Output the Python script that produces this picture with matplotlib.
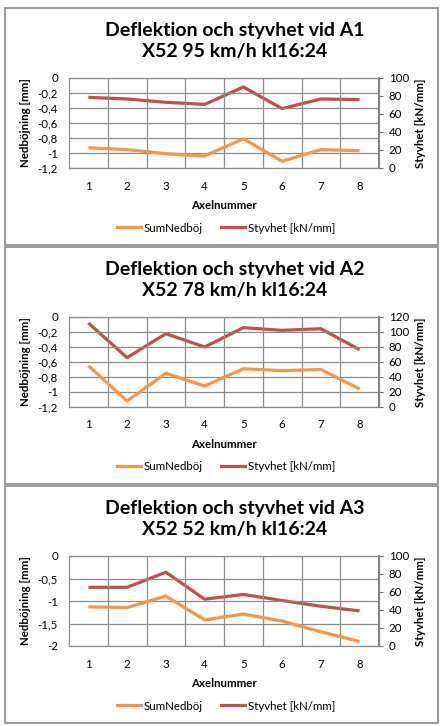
import matplotlib
matplotlib.use("Agg")
import matplotlib.pyplot as plt
from matplotlib.patches import Rectangle
from matplotlib.lines import Line2D

plt.rcParams['font.family'] = ['Lato', 'DejaVu Sans']

# data
axlar = [1, 2, 3, 4, 5, 6, 7, 8]
titlar = ["Deflektion och styvhet vid A1\nX52 95 km/h kl16:24",
          "Deflektion och styvhet vid A2\nX52 78 km/h kl16:24",
          "Deflektion och styvhet vid A3\nX52 52 km/h kl16:24"]
nedboj_a1 = [-0.93, -0.955, -1.01, -1.04, -0.81, -1.11, -0.955, -0.97]
nedboj_a2 = [-0.65, -1.12, -0.75, -0.92, -0.69, -0.715, -0.70, -0.96]
nedboj_a3 = [-1.13, -1.145, -0.89, -1.42, -1.29, -1.445, -1.685, -1.90]
styv_a1 = [78.5, 76.7, 73, 70.7, 90, 66, 76.7, 76]
styv_a2 = [112, 65.8, 97.8, 80, 105.8, 102.2, 104.4, 76.4]
styv_a3 = [65.2, 65.2, 82, 52, 57.3, 50.5, 44.2, 39]
vanster_ticks = [[0, -0.2, -0.4, -0.6, -0.8, -1, -1.2],
                 [0, -0.2, -0.4, -0.6, -0.8, -1, -1.2],
                 [0, -0.5, -1, -1.5, -2]]
hoger_ticks = [[0, 20, 40, 60, 80, 100],
               [0, 20, 40, 60, 80, 100, 120],
               [0, 20, 40, 60, 80, 100]]

W, H = 447, 726
ORANGE = "#F79646"
ROD = "#C0504D"
GRID = "#8C8C8C"


def fx(x):
    return x / W


def fy(y):
    return 1 - y / H


def fmt(v):
    return ("%g" % v).replace(".", ",")


fig = plt.figure(figsize=(W / 100, H / 100), dpi=100)

nedboj = [nedboj_a1, nedboj_a2, nedboj_a3]
styv = [styv_a1, styv_a2, styv_a3]

for i in range(3):
    off = 239 * i
    # ram runt varje diagram
    fig.patches.append(Rectangle((fx(5), fy(8 + off + 237)), fx(433), 237 / H,
                                 transform=fig.transFigure, fill=False,
                                 edgecolor="#8A8A8A", linewidth=1.2))
    fig.text(fx(235), fy(41 + off), titlar[i], ha="center", va="center",
             fontsize=14, fontweight="bold", linespacing=1.22)

    ax = fig.add_axes([fx(69), fy(168 + off), fx(310), 90 / H])
    ax2 = ax.twinx()
    ax.set_zorder(ax2.get_zorder() + 1)
    ax.patch.set_visible(False)

    ax.plot(axlar, nedboj[i], color=ORANGE, lw=2.3, solid_capstyle="butt")
    ax2.plot(axlar, styv[i], color=ROD, lw=2.3, solid_capstyle="butt")

    vt = vanster_ticks[i]
    ht = hoger_ticks[i]
    ax.set_xlim(0.5, 8.5)
    ax.set_ylim(min(vt), 0)
    ax2.set_ylim(0, max(ht))
    ax.set_yticks(vt)
    ax.set_yticklabels([fmt(v) for v in vt])
    ax2.set_yticks(ht)
    ax2.set_yticklabels([fmt(v) for v in ht])
    ax.set_xticks(axlar)
    ax.set_xticks([k + 0.5 for k in axlar[:-1]], minor=True)

    ax.grid(True, axis="y", color=GRID, lw=0.9)
    ax.grid(True, axis="x", which="minor", color=GRID, lw=0.9)
    ax.set_axisbelow(True)

    ax.tick_params(axis="both", which="both", length=0, labelsize=8.3, pad=8)
    ax.tick_params(axis="x", pad=9)
    ax2.tick_params(axis="y", length=3, color="#707070", labelsize=8.3, pad=4)

    for sp in ax.spines.values():
        sp.set_color(GRID)
        sp.set_linewidth(0.9)
    for sp in ax2.spines.values():
        sp.set_visible(False)
    ax2.spines["right"].set_visible(True)
    ax2.spines["right"].set_color("#707070")
    ax2.spines["right"].set_linewidth(1.3)

    ax.set_ylabel("Nedböjning [mm]", fontsize=8.3, fontweight="bold", labelpad=5)
    ax2.set_ylabel("Styvhet [kN/mm]", fontsize=8.3, fontweight="bold", labelpad=4)
    ax.set_xlabel("Axelnummer", fontsize=8.3, fontweight="bold", labelpad=6)

    hand = [Line2D([], [], color=ORANGE, lw=2.3),
            Line2D([], [], color=ROD, lw=2.3)]
    fig.legend(hand, ["SumNedböj", "Styvhet [kN/mm]"], loc="center",
               bbox_to_anchor=(fx(226), fy(228 + off)), ncol=2, frameon=False,
               fontsize=8.3, handlelength=2.1, handletextpad=0.2,
               columnspacing=1.6)

fig.savefig("out.png", dpi=100)
